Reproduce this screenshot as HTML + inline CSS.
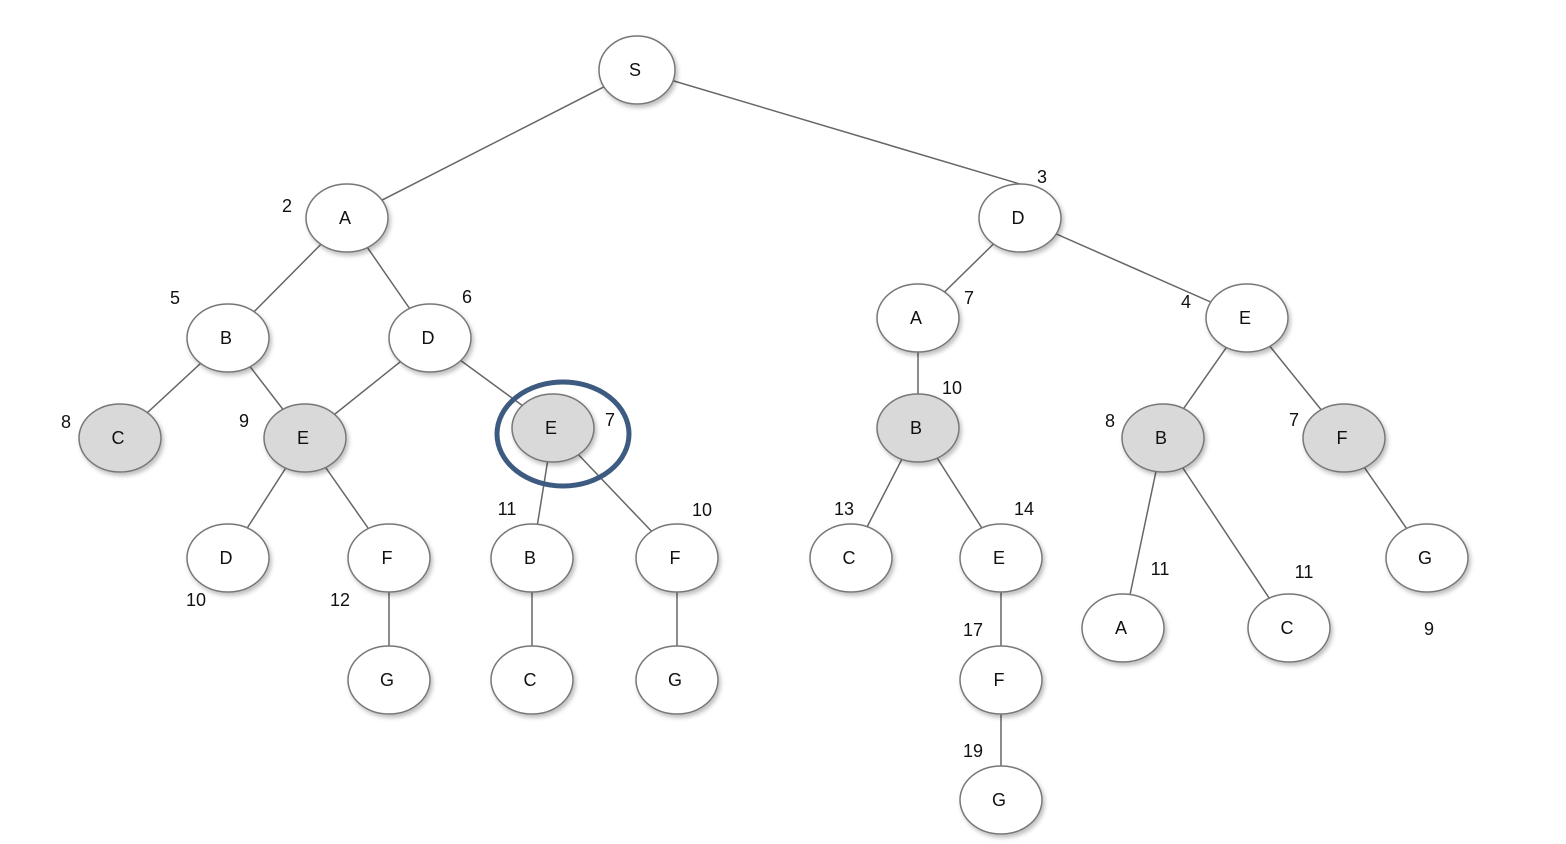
<!DOCTYPE html>
<html><head><style>body{margin:0;background:#fff}svg{display:block}</style></head><body>
<svg width="1566" height="844" xmlns="http://www.w3.org/2000/svg" font-family="Liberation Sans, sans-serif">
<defs><filter id="sh" x="-20%" y="-20%" width="150%" height="150%"><feDropShadow dx="2" dy="3" stdDeviation="2" flood-color="#000" flood-opacity="0.25"/></filter></defs>
<g stroke="#666" stroke-width="1.5">
<line x1="637" y1="70" x2="347" y2="218"/><line x1="637" y1="70" x2="1040" y2="190"/>
<line x1="347" y1="218" x2="228" y2="338"/><line x1="347" y1="218" x2="430" y2="338"/>
<line x1="228" y1="338" x2="120" y2="438"/><line x1="228" y1="338" x2="305" y2="438"/>
<line x1="430" y1="338" x2="305" y2="438"/><line x1="430" y1="338" x2="553" y2="428"/>
<line x1="305" y1="438" x2="228" y2="558"/><line x1="305" y1="438" x2="389" y2="558"/>
<line x1="389" y1="558" x2="389" y2="680"/>
<line x1="553" y1="428" x2="532" y2="558"/><line x1="553" y1="428" x2="677" y2="558"/>
<line x1="532" y1="558" x2="532" y2="680"/><line x1="677" y1="558" x2="677" y2="680"/>
<line x1="1020" y1="218" x2="918" y2="318"/><line x1="1020" y1="218" x2="1247" y2="318"/>
<line x1="918" y1="318" x2="918" y2="428"/>
<line x1="918" y1="428" x2="851" y2="558"/><line x1="918" y1="428" x2="1001" y2="558"/>
<line x1="1001" y1="558" x2="1001" y2="800"/>
<line x1="1247" y1="318" x2="1163" y2="438"/><line x1="1247" y1="318" x2="1344" y2="438"/>
<line x1="1163" y1="438" x2="1123" y2="628"/><line x1="1163" y1="438" x2="1289" y2="628"/>
<line x1="1344" y1="438" x2="1427" y2="558"/>
</g>
<g stroke="#777" stroke-width="1.5" filter="url(#sh)">
<ellipse cx="637" cy="70" rx="38" ry="34" fill="#fff"/>
<ellipse cx="347" cy="218" rx="41" ry="34" fill="#fff"/>
<ellipse cx="1020" cy="218" rx="41" ry="34" fill="#fff"/>
<ellipse cx="228" cy="338" rx="41" ry="34" fill="#fff"/>
<ellipse cx="430" cy="338" rx="41" ry="34" fill="#fff"/>
<ellipse cx="918" cy="318" rx="41" ry="34" fill="#fff"/>
<ellipse cx="1247" cy="318" rx="41" ry="34" fill="#fff"/>
<ellipse cx="120" cy="438" rx="41" ry="34" fill="#d9d9d9"/>
<ellipse cx="305" cy="438" rx="41" ry="34" fill="#d9d9d9"/>
<ellipse cx="553" cy="428" rx="41" ry="34" fill="#d9d9d9"/>
<ellipse cx="918" cy="428" rx="41" ry="34" fill="#d9d9d9"/>
<ellipse cx="1163" cy="438" rx="41" ry="34" fill="#d9d9d9"/>
<ellipse cx="1344" cy="438" rx="41" ry="34" fill="#d9d9d9"/>
<ellipse cx="228" cy="558" rx="41" ry="34" fill="#fff"/>
<ellipse cx="389" cy="558" rx="41" ry="34" fill="#fff"/>
<ellipse cx="532" cy="558" rx="41" ry="34" fill="#fff"/>
<ellipse cx="677" cy="558" rx="41" ry="34" fill="#fff"/>
<ellipse cx="851" cy="558" rx="41" ry="34" fill="#fff"/>
<ellipse cx="1001" cy="558" rx="41" ry="34" fill="#fff"/>
<ellipse cx="1427" cy="558" rx="41" ry="34" fill="#fff"/>
<ellipse cx="1123" cy="628" rx="41" ry="34" fill="#fff"/>
<ellipse cx="1289" cy="628" rx="41" ry="34" fill="#fff"/>
<ellipse cx="389" cy="680" rx="41" ry="34" fill="#fff"/>
<ellipse cx="532" cy="680" rx="41" ry="34" fill="#fff"/>
<ellipse cx="677" cy="680" rx="41" ry="34" fill="#fff"/>
<ellipse cx="1001" cy="680" rx="41" ry="34" fill="#fff"/>
<ellipse cx="1001" cy="800" rx="41" ry="34" fill="#fff"/>
</g>
<ellipse cx="563" cy="434" rx="66" ry="52" fill="none" stroke="#3d5a80" stroke-width="5"/>
<g font-size="18" text-anchor="middle" fill="#111">
<text x="635" y="76">S</text>
<text x="345" y="224">A</text><text x="1018" y="224">D</text>
<text x="226" y="344">B</text><text x="428" y="344">D</text><text x="916" y="324">A</text><text x="1245" y="324">E</text>
<text x="118" y="444">C</text><text x="303" y="444">E</text><text x="551" y="434">E</text><text x="916" y="434">B</text><text x="1161" y="444">B</text><text x="1342" y="444">F</text>
<text x="226" y="564">D</text><text x="387" y="564">F</text><text x="530" y="564">B</text><text x="675" y="564">F</text><text x="849" y="564">C</text><text x="999" y="564">E</text><text x="1425" y="564">G</text>
<text x="1121" y="634">A</text><text x="1287" y="634">C</text>
<text x="387" y="686">G</text><text x="530" y="686">C</text><text x="675" y="686">G</text><text x="999" y="686">F</text>
<text x="999" y="806">G</text>
</g>
<g font-size="18" text-anchor="middle" fill="#111">
<text x="287" y="212">2</text><text x="1042" y="183">3</text><text x="175" y="304">5</text><text x="467" y="303">6</text>
<text x="969" y="304">7</text><text x="1186" y="308">4</text><text x="66" y="428">8</text><text x="244" y="427">9</text>
<text x="610" y="426">7</text><text x="952" y="394">10</text><text x="1110" y="427">8</text><text x="1294" y="426">7</text>
<text x="507" y="515">11</text><text x="702" y="516">10</text><text x="844" y="515">13</text><text x="1024" y="515">14</text>
<text x="1160" y="575">11</text><text x="1304" y="578">11</text><text x="1429" y="635">9</text>
<text x="196" y="606">10</text><text x="340" y="606">12</text><text x="973" y="636">17</text><text x="973" y="757">19</text>
</g>
</svg>
</body></html>
